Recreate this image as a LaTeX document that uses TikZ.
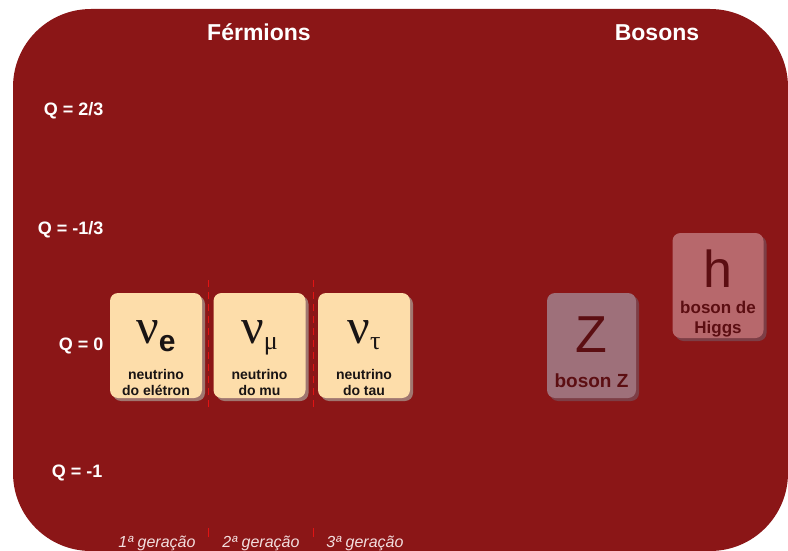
\documentclass[tikz,border=0pt]{standalone}
\usepackage{fontspec}
\setmainfont{Liberation Sans}
\newfontfamily\serifgr{Liberation Serif}
\usetikzlibrary{shadows}
\definecolor{bg}{RGB}{139,22,23}
\definecolor{ferm}{RGB}{253,221,170}
\definecolor{fshadow}{RGB}{160,118,112}
\definecolor{zfill}{RGB}{158,112,122}
\definecolor{hfill}{RGB}{183,104,108}
\definecolor{bshadow}{RGB}{125,62,70}
\definecolor{btext}{RGB}{92,14,18}
\definecolor{gencol}{RGB}{242,222,222}
\definecolor{sepcol}{RGB}{225,20,20}
\definecolor{ftext}{RGB}{25,20,20}
\begin{document}
\begin{tikzpicture}[x=1pt,y=-1pt,
  title/.style={text=white,font=\bfseries\fontsize{23}{27}\selectfont,anchor=base},
  qlab/.style={text=white,font=\bfseries\fontsize{18}{22}\selectfont,anchor=base east},
  genlab/.style={text=gencol,font=\itshape\fontsize{16}{19}\selectfont,anchor=base},
  cardbox/.style={rounded corners=8pt,minimum width=92pt,minimum height=105pt,inner sep=0pt},
  fermbox/.style={cardbox,fill=ferm,drop shadow={shadow xshift=3pt,shadow yshift=-3pt,fill=fshadow,opacity=1}},
  bosbox/.style={cardbox,drop shadow={shadow xshift=3pt,shadow yshift=-3pt,fill=bshadow,opacity=1}},
  fsym/.style={text=ftext,anchor=base,inner sep=0pt},
  fname/.style={text=ftext,font=\bfseries\fontsize{14}{15.5}\selectfont,align=center,anchor=base,inner sep=0pt},
  bname/.style={text=btext,font=\bfseries\fontsize{17}{20}\selectfont,align=center,anchor=base,inner sep=0pt},
  bsym/.style={text=btext,font=\fontsize{52}{52}\selectfont,anchor=base,inner sep=0pt},
  sepline/.style={draw=sepcol,line width=1pt,dash pattern=on 7pt off 5pt}
]
\useasboundingbox (0,0) rectangle (788,551);
\fill[bg,rounded corners=78pt] (13,9) rectangle (788,551);

% titles
\node[title] (fermions) at (259,41) {Férmions};
\node[title] (bosons) at (657,41) {Bosons};

% charge labels
\node[qlab] (q23) at (107,116) {Q = 2/3};
\node[qlab] (q13) at (107,234) {Q = -1/3};
\node[qlab] (q0) at (107,350) {Q = 0};
\node[qlab] (q1) at (106,477) {Q = -1};

% separators
\coordinate (s1a) at (208.5,280); \coordinate (s1b) at (208.5,410);
\coordinate (s2a) at (313,280); \coordinate (s2b) at (313,410);
\coordinate (s1c) at (208.5,528); \coordinate (s1d) at (208.5,537);
\coordinate (s2c) at (313,528); \coordinate (s2d) at (313,537);
\draw[sepline] (s1a) -- (s1b);
\draw[sepline] (s2a) -- (s2b);
\draw[sepcol,line width=1pt] (s1c) -- (s1d);
\draw[sepcol,line width=1pt] (s2c) -- (s2d);

% fermion cards
\node[fermbox] (nue) at (156,345.5) {};
\node[fermbox] (numu) at (259.5,345.5) {};
\node[fermbox] (nutau) at (364,345.5) {};

\node[fsym] (nuesym) at (156,343) {\fontsize{50}{50}\selectfont\serifgr ν\raisebox{-8pt}{\fontsize{30}{30}\selectfont\bfseries\rmfamily e}};
\node[fsym] (numusym) at (259.5,343) {\fontsize{50}{50}\selectfont\serifgr ν\raisebox{-6pt}{\fontsize{26}{26}\selectfont μ}};
\node[fsym] (nutausym) at (364,343) {\fontsize{50}{50}\selectfont\serifgr ν\raisebox{-6pt}{\fontsize{26}{26}\selectfont τ}};

\node[fname] (nuename) at (156,395) {neutrino\\do elétron};
\node[fname] (numuname) at (259.5,395) {neutrino\\do mu};
\node[fname] (nutauname) at (364,395) {neutrino\\do tau};

% boson cards
\node[bosbox,fill=zfill,minimum width=89pt] (zb) at (591.5,345.5) {};
\node[bsym] (zsym) at (591.5,352) {Z};
\node[bname,font=\bfseries\fontsize{19}{22}\selectfont] (zname) at (591.5,387) {boson Z};

\node[bosbox,fill=hfill,minimum width=91pt] (hb) at (718,285.5) {};
\node[bsym] (hsym) at (718,287) {h};
\node[bname] (hname) at (718,333) {boson de\\Higgs};

% generation labels
\node[genlab] (g1) at (157,547) {1ª geração};
\node[genlab] (g2) at (261,547) {2ª geração};
\node[genlab] (g3) at (365,547) {3ª geração};
\end{tikzpicture}
\end{document}
